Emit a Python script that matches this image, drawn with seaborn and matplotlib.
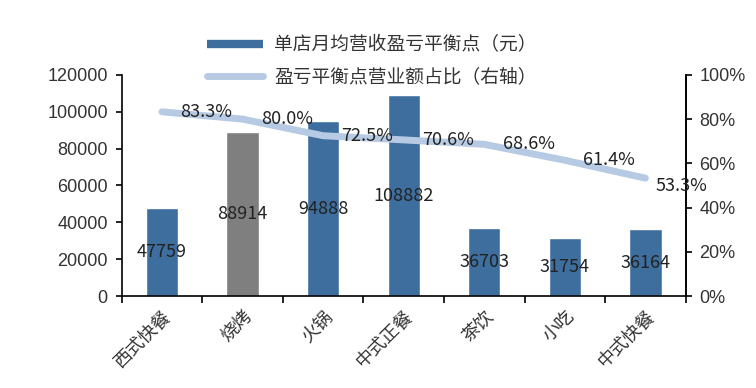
import numpy as np
import pandas as pd
import matplotlib
matplotlib.use("Agg")
import matplotlib.pyplot as plt
import seaborn as sns
from matplotlib.lines import Line2D
from matplotlib.ticker import PercentFormatter, FixedLocator

categories = ["西式快餐", "烧烤", "火锅", "中式正餐", "茶饮", "小吃", "中式快餐"]
breakeven_revenue = [47759, 88914, 94888, 108882, 36703, 31754, 36164]
breakeven_ratio = [83.3, 80.0, 72.5, 70.6, 68.6, 61.4, 53.3]
ratio_labels = ["83.3%", "80.0%", "72.5%", "70.6%", "68.6%", "61.4%", "53.3%"]
bar_legend = "单店月均营收盈亏平衡点（元）"
line_legend = "盈亏平衡点营业额占比（右轴）"

sns.set_theme(style="white")
plt.rcParams["font.family"] = ["Liberation Sans", "Noto Sans CJK SC", "DejaVu Sans"]
cjk = ["Noto Sans CJK SC", "DejaVu Sans"]

blue = "#3E6E9E"
gray = "#7F7F7F"
light = "#B7CAE3"
palette = [blue, gray, blue, blue, blue, blue, blue]

df = pd.DataFrame({"cat": categories, "rev": breakeven_revenue,
                   "ratio": np.array(breakeven_ratio) / 100})

fig = plt.figure(figsize=(7.56, 3.88), dpi=100)
ax = fig.add_axes([0.161, 0.237, 0.746, 0.570])
sns.barplot(data=df, x="cat", y="rev", hue="cat", palette=palette,
            legend=False, width=0.4, ax=ax, saturation=1)
ax.set_ylim(0, 120000)
ax.set_xlim(-0.5, 6.5)
ax.set_yticks(np.arange(0, 120001, 20000))
ax.set_xlabel("")
ax.set_ylabel("")
ax.spines["top"].set_visible(False)
for s in ["left", "bottom", "right"]:
    ax.spines[s].set_color("black")
    ax.spines[s].set_linewidth(1.2)
ax.tick_params(axis="y", which="major", direction="out", length=4, width=1.2,
               color="black", left=True, labelsize=13, labelcolor="#333333", pad=6)
# category boundary ticks on the bottom axis
ax.xaxis.set_minor_locator(FixedLocator(np.arange(-0.5, 7, 1.0)))
ax.tick_params(axis="x", which="minor", direction="out", length=5, width=1.2,
               color="black", bottom=True)
ax.tick_params(axis="x", which="major", length=0, pad=8)
ax.set_xticks(range(len(categories)))
ax.set_xticklabels(categories, rotation=45, ha="right", rotation_mode="anchor",
                   family=cjk, fontsize=13, color="#333333")

for i, v in enumerate(breakeven_revenue):
    ax.text(i, v / 2, f"{v}", ha="center", va="center", fontsize=13,
            color="#222222", family=cjk, zorder=5)

ax2 = ax.twinx()
sns.lineplot(x=np.arange(len(categories)), y=df["ratio"], ax=ax2, color=light,
             linewidth=5, solid_capstyle="round", legend=False)
ax2.set_ylim(0, 1.0)
ax2.set_yticks(np.arange(0, 1.01, 0.2))
ax2.yaxis.set_major_formatter(PercentFormatter(1.0, decimals=0))
ax2.set_ylabel("")
ax2.tick_params(axis="y", direction="out", length=4, width=1.2, color="black",
                right=True, labelsize=13, labelcolor="#333333", pad=6)
for s in ["top", "left", "bottom"]:
    ax2.spines[s].set_visible(False)
ax2.spines["right"].set_color("black")
ax2.spines["right"].set_linewidth(1.2)
ax2.set_xlim(-0.5, 6.5)

n = len(breakeven_ratio)
for i, (v, lab) in enumerate(zip(breakeven_ratio, ratio_labels)):
    dx, dy = (0.45, -6) if i == n - 1 else (0.55, 0)
    ax2.annotate(lab, (i + dx, v / 100), xytext=(0, dy), textcoords="offset points",
                 ha="center", va="center", fontsize=13, color="#222222",
                 family=cjk, zorder=6, annotation_clip=False)

handles = [Line2D([0], [0], color=blue, lw=6, solid_capstyle="butt"),
           Line2D([0], [0], color=light, lw=5, solid_capstyle="round")]
fig.legend(handles, [bar_legend, line_legend], loc="upper left",
           bbox_to_anchor=(0.251, 0.955), frameon=False, handlelength=3.0,
           handletextpad=0.6, labelspacing=0.6,
           prop={"family": cjk, "size": 13.5}, labelcolor="#333333")

fig.savefig("out.png", dpi=100)
